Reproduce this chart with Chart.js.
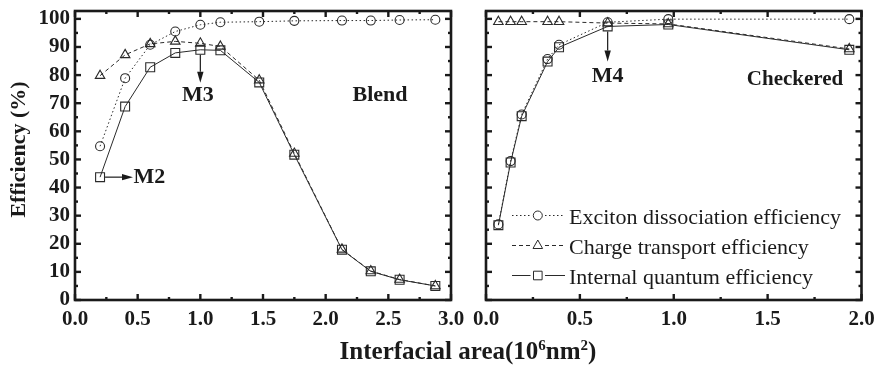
<!DOCTYPE html>
<html><head><meta charset="utf-8">
<script src="https://cdn.jsdelivr.net/npm/chart.js@4.4.0/dist/chart.umd.min.js"></script>
<style>
html,body{margin:0;padding:0;background:#fff;}
#wrap{position:relative;width:878px;height:369px;overflow:hidden;background:#fff;}
canvas{position:absolute;left:0;top:0;}
#xt{position:absolute;left:218px;width:500px;top:338px;text-align:center;font:bold 25px/25px 'Liberation Serif','Times New Roman',serif;color:#1a1a1a;white-space:nowrap;}
#xt sup{font-size:15px;position:relative;top:-0.62em;vertical-align:baseline;line-height:0;}
</style></head><body>
<div id="wrap">
<canvas id="c1" width="878" height="369" style="width:878px;height:369px"></canvas>
<canvas id="c2" width="878" height="369" style="width:878px;height:369px"></canvas>
<div id="xt">Interfacial area(10<sup>6</sup>nm<sup>2</sup>)</div>
</div>
<script>
// ---------------- data ----------------
const blendArea      = [0.2, 0.4, 0.6, 0.8, 1.0, 1.16, 1.47, 1.75, 2.13, 2.36, 2.59, 2.875];
const blendExciton   = [54.7, 78.9, 90.8, 95.5, 97.9, 98.8, 99.0, 99.3, 99.4, 99.4, 99.6, 99.7];
const blendTransport = [79.8, 87.2, 91.1, 92.0, 91.3, 90.2, 78.2, 52.1, 18.0, 10.3, 7.3, 5.0];
const blendIQE       = [43.7, 68.8, 82.8, 87.9, 89.0, 88.8, 77.4, 51.7, 17.9, 10.2, 7.2, 5.0];

const checkArea      = [0.066, 0.131, 0.19, 0.328, 0.389, 0.648, 0.971, 1.935];
const checkExciton   = [26.9, 49.4, 66.0, 85.7, 90.8, 98.8, 99.9, 99.9];
const checkTransport = [99.0, 99.0, 99.0, 99.0, 99.0, 98.5, 98.2, 89.3];
const checkIQE       = [26.6, 48.9, 65.4, 84.8, 89.9, 97.3, 98.0, 89.0];

const blendXTicks = [0, 0.5, 1.0, 1.5, 2.0, 2.5, 3.0];
const checkXTicks = [0, 0.5, 1.0, 1.5, 2.0];
const yTicks = [0, 10, 20, 30, 40, 50, 60, 70, 80, 90, 100];
const seriesNames = ['Exciton dissociation efficiency', 'Charge transport efficiency', 'Internal quantum efficiency'];
const yTitle = 'Efficiency (%)';
const panelLabels = ['Blend', 'Checkered'];
const markerLabels = ['M2', 'M3', 'M4'];

// ---------------- styles ----------------
const INK = '#1a1a1a';
const LINE = '#2a2a2a';
const SERIF = "'Liberation Serif','Times New Roman',serif";
const Y_MAX = 102.8;

const seriesStyle = [
  {dash: [1.5, 2.5], shape: 'circle', r: 4.5},
  {dash: [4, 3], shape: 'triangle', r: 5.5},
  {dash: [], shape: 'rect', r: 6.3}
];

function pts(xs, ys) { return xs.map((x, i) => ({x: x, y: ys[i]})); }
function makeDatasets(xs, series) {
  return series.map((ys, i) => ({
    label: seriesNames[i],
    data: pts(xs, ys),
    borderColor: LINE,
    borderWidth: 1,
    borderDash: seriesStyle[i].dash,
    pointStyle: seriesStyle[i].shape,
    pointRadius: seriesStyle[i].r,
    pointBorderWidth: 1.1,
    pointBorderColor: LINE,
    pointBackgroundColor: 'rgba(255,255,255,0)',
    tension: 0,
    fill: false
  }));
}

function drawLine(ctx, x1, y1, x2, y2) { ctx.beginPath(); ctx.moveTo(x1, y1); ctx.lineTo(x2, y2); ctx.stroke(); }

function framePlugin(xMax) {
  return {
    id: 'frame',
    afterDraw(chart) {
      const ctx = chart.ctx, a = chart.chartArea, x = chart.scales.x, y = chart.scales.y;
      ctx.save();
      ctx.strokeStyle = INK; ctx.lineWidth = 2.4; ctx.lineCap = 'butt';
      for (let k = 0; k <= Math.round(xMax * 4); k++) {
        const v = k / 4, px = x.getPixelForValue(v), len = (k % 2 === 0) ? 6 : 3;
        drawLine(ctx, px, a.bottom, px, a.bottom - len);
        drawLine(ctx, px, a.top, px, a.top + len);
      }
      for (let k = 0; k <= 20; k++) {
        const py = y.getPixelForValue(k * 5), len = (k % 2 === 0) ? 6 : 3;
        drawLine(ctx, a.left, py, a.left + len, py);
        drawLine(ctx, a.right, py, a.right - len, py);
      }
      ctx.lineWidth = 2.6;
      ctx.strokeRect(a.left, a.top, a.right - a.left, a.bottom - a.top);
      ctx.restore();
    }
  };
}

function arrow(ctx, x1, y1, x2, y2) {
  const ang = Math.atan2(y2 - y1, x2 - x1), L = 11, W = 3.2;
  const bx = x2 - L * Math.cos(ang), by = y2 - L * Math.sin(ang);
  ctx.lineWidth = 1.2;
  drawLine(ctx, x1, y1, bx, by);
  ctx.beginPath();
  ctx.moveTo(x2, y2);
  ctx.lineTo(bx + W * Math.sin(ang), by - W * Math.cos(ang));
  ctx.lineTo(bx - W * Math.sin(ang), by + W * Math.cos(ang));
  ctx.closePath(); ctx.fill();
}

const blendAnno = {
  id: 'blendAnno',
  afterDraw(chart) {
    const ctx = chart.ctx, x = chart.scales.x, y = chart.scales.y;
    ctx.save();
    ctx.fillStyle = INK; ctx.strokeStyle = INK;
    // y title
    ctx.save();
    ctx.translate(19.5, 149.5); ctx.rotate(-Math.PI / 2);
    ctx.font = 'bold 22px ' + SERIF; ctx.textAlign = 'center'; ctx.textBaseline = 'middle';
    ctx.fillText(yTitle, 0, 0);
    ctx.restore();
    ctx.font = 'bold 22px ' + SERIF; ctx.textBaseline = 'middle';
    // M2
    const m2x = x.getPixelForValue(blendArea[0]), m2y = y.getPixelForValue(blendIQE[0]);
    arrow(ctx, m2x + 5, m2y, 133, m2y);
    ctx.textAlign = 'left'; ctx.fillText(markerLabels[0], 133.5, m2y);
    // M3
    const m3x = x.getPixelForValue(blendArea[4]), m3y = y.getPixelForValue(blendIQE[4]);
    arrow(ctx, m3x, m3y + 5, m3x, m3y + 33);
    ctx.textAlign = 'center'; ctx.fillText(markerLabels[1], m3x - 2.5, m3y + 46);
    // Blend
    ctx.fillText(panelLabels[0], 380, 95);
    ctx.restore();
  }
};

function legendMarker(ctx, shape, cx, cy) {
  ctx.beginPath();
  if (shape === 'circle') { ctx.arc(cx, cy, 4.5, 0, Math.PI * 2); }
  else if (shape === 'triangle') {
    ctx.moveTo(cx, cy - 5.5); ctx.lineTo(cx + 4.8, cy + 3); ctx.lineTo(cx - 4.8, cy + 3); ctx.closePath();
  } else { ctx.rect(cx - 4.3, cy - 4.3, 8.6, 8.6); }
  ctx.fillStyle = '#fff'; ctx.fill(); ctx.stroke();
}

const checkAnno = {
  id: 'checkAnno',
  afterDraw(chart) {
    const ctx = chart.ctx, x = chart.scales.x, y = chart.scales.y;
    ctx.save();
    ctx.fillStyle = INK; ctx.strokeStyle = INK;
    ctx.font = 'bold 22px ' + SERIF; ctx.textBaseline = 'middle'; ctx.textAlign = 'center';
    // M4
    const m4x = x.getPixelForValue(checkArea[5]), m4y = y.getPixelForValue(checkIQE[5]);
    arrow(ctx, m4x, m4y + 5, m4x, m4y + 35);
    ctx.fillText(markerLabels[2], m4x, m4y + 50);
    ctx.font = 'bold 21px ' + SERIF;
    ctx.fillText(panelLabels[1], 795, 80);
    // legend
    const baselines = [224, 254, 284];
    chart.data.datasets.forEach((ds, i) => {
      const by = baselines[i], my = by - 8.5;
      ctx.strokeStyle = LINE; ctx.lineWidth = 1;
      ctx.setLineDash(ds.borderDash);
      drawLine(ctx, 512, my, 530.5, my);
      drawLine(ctx, 545, my, 565, my);
      ctx.setLineDash([]);
      legendMarker(ctx, ds.pointStyle, 537.8, my);
      ctx.fillStyle = INK;
      ctx.font = '22px ' + SERIF; ctx.textAlign = 'left'; ctx.textBaseline = 'alphabetic';
      ctx.fillText(ds.label, 569, by);
    });
    ctx.restore();
  }
};

function tickFromArray(arr) { return s => { s.ticks = arr.map(v => ({value: v})); }; }

function xScale(max, ticksArr) {
  return {
    type: 'linear', min: 0, max: max,
    afterBuildTicks: tickFromArray(ticksArr),
    afterFit: s => { s.height = 69; s.paddingLeft = 0; s.paddingRight = 0; },
    grid: {display: false, drawTicks: false},
    border: {display: false},
    ticks: {
      autoSkip: false, maxRotation: 0, padding: 7, color: INK,
      font: {family: SERIF, size: 21, weight: 'bold'},
      callback: v => Number(v).toFixed(1)
    }
  };
}

const common = {
  responsive: false, animation: false, devicePixelRatio: 1,
  events: [],
  plugins: {legend: {display: false}, tooltip: {enabled: false}, title: {display: false}}
};

new Chart(document.getElementById('c1'), {
  type: 'line',
  data: {datasets: makeDatasets(blendArea, [blendExciton, blendTransport, blendIQE])},
  options: Object.assign({}, common, {
    layout: {padding: {left: 0, right: 427, top: 11, bottom: 0}},
    scales: {
      x: xScale(3, blendXTicks),
      y: {
        type: 'linear', min: 0, max: Y_MAX,
        afterBuildTicks: tickFromArray(yTicks),
        afterFit: s => { s.width = 75; s.paddingTop = 0; s.paddingBottom = 0; },
        grid: {display: false, drawTicks: false},
        border: {display: false},
        ticks: {padding: 5, color: INK, font: {family: SERIF, size: 21, weight: 'bold'}}
      }
    }
  }),
  plugins: [framePlugin(3), blendAnno]
});

new Chart(document.getElementById('c2'), {
  type: 'line',
  data: {datasets: makeDatasets(checkArea, [checkExciton, checkTransport, checkIQE])},
  options: Object.assign({}, common, {
    layout: {padding: {left: 486, right: 16.5, top: 11, bottom: 0}},
    scales: {
      x: xScale(2, checkXTicks),
      y: {type: 'linear', min: 0, max: Y_MAX, display: false}
    }
  }),
  plugins: [framePlugin(2), checkAnno]
});
</script>
</body></html>
